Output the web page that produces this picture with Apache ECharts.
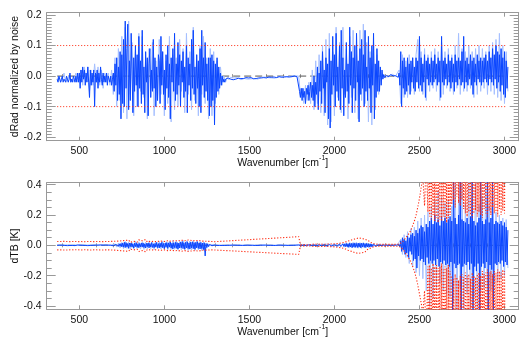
<!DOCTYPE html>
<html><head><meta charset="utf-8">
<script src="https://cdn.jsdelivr.net/npm/echarts@6/dist/echarts.min.js"></script>
<style>html,body{margin:0;padding:0;background:#fff}#c{width:527px;height:339px}</style>
</head><body><div id="c"></div>
<script>
// wavenumber grids (cm-1)
const WN0 = 370, STEP_FINE = 5, STEP_COARSE = 10, WN_SW = 2550;
// tick labels
const xMajor = [500,1000,1500,2000,2500,3000];
const xMinor = [400,600,700,800,900,1100,1200,1300,1400,1600,1700,1800,1900,2100,2200,2300,2400,2600,2700,2800,2900];
const topYMajor = [-0.2,-0.1,0,0.1,0.2];
const botYMajor = [-0.4,-0.2,0,0.2,0.4];
const noiseLevels = [0.1,-0.1];
const refSpan = [370,3005];
const zeroSpan = [370,3020];

// top panel: dRad normalized by noise (fine grid 370..3020 step 5)
const topDark = [
-.01,-.02,.00,-.01,-.02,-.01,.00,-.02,-.01,-.01,-.02,.00,-.01,-.02,-.01,.01,-.02,-.01,-.02,.00,
-.01,-.02,.00,-.02,.01,-.02,.01,-.04,.02,-.02,.03,-.01,.02,-.03,.01,-.02,.03,-.02,-.07,.02,
-.03,.01,-.02,.02,-.10,.01,-.02,.02,-.04,.01,-.02,.03,-.01,-.03,.01,-.02,.00,-.02,.01,-.03,
.00,-.01,-.02,.00,-.03,-.01,.01,-.05,.04,-.03,.06,-.08,.03,-.06,.08,-.14,.07,-.09,.12,-.10,
.18,-.04,.09,.17,-.11,.05,-.08,.14,.02,-.12,.06,-.05,.10,-.03,.07,-.10,.13,-.04,.05,-.09,
.15,-.06,.03,-.12,.08,-.02,.06,-.13,.04,.09,-.07,.02,-.05,.12,-.04,.06,-.10,.03,-.08,.07,
.05,-.09,.13,-.03,.08,-.06,.02,-.11,.07,-.04,.10,-.07,.04,-.14,.06,-.02,.09,-.05,.14,-.08,
.04,-.06,.11,-.03,.07,-.10,.05,-.02,.08,-.07,.03,-.05,.10,-.12,.06,-.03,.04,-.08,.12,-.04,
.15,-.06,.03,-.09,.07,-.04,.05,-.10,.09,-.12,.15,-.03,.06,-.07,.11,-.05,.04,-.08,.06,-.13,
.06,-.10,.07,-.08,.05,-.16,.04,-.07,.06,-.05,.03,-.04,.01,-.03,.00,-.02,-.01,-.02,-.01,-.01,
-.009,-.006,-.011,-.007,-.010,-.005,-.009,-.012,-.006,-.008,-.010,-.006,-.009,-.007,-.011,-.006,-.008,-.010,-.005,-.008,
-.007,-.009,-.005,-.008,-.010,-.006,-.007,-.009,-.005,-.008,-.006,-.009,-.007,-.005,-.008,-.006,-.009,-.006,-.004,-.007,
-.006,-.004,-.007,-.005,-.008,-.004,-.006,-.005,-.007,-.003,-.006,-.005,-.004,-.007,-.005,-.003,-.006,-.004,-.005,-.003,
-.004,-.002,-.005,-.003,-.004,-.002,-.004,-.003,-.001,-.004,-.002,-.003,-.001,-.003,-.002,.000,-.002,-.001,-.002,.000,
-.001,.000,-.002,.001,-.001,-.05,-.07,-.04,-.08,-.04,-.07,-.05,-.09,-.04,-.06,-.03,-.08,-.05,-.02,-.07,
-.03,-.08,.00,-.10,-.02,-.06,.03,-.11,.01,-.05,.05,-.09,.08,-.04,.02,-.12,.06,-.02,.04,-.14,
.09,-.17,.05,-.06,.13,-.03,.07,-.10,.14,-.05,.03,-.08,.10,-.11,.15,-.04,.06,-.13,.02,-.07,
.11,-.05,.04,-.09,.16,-.03,.08,-.12,.06,-.04,.10,-.08,.14,-.02,.05,-.15,.09,-.06,.12,-.04,
.07,-.10,.15,-.05,.03,-.08,.13,-.04,.06,-.12,.10,-.03,.14,-.14,.04,-.07,.09,-.05,.05,-.05,
.03,-.03,.02,-.01,.005,-.005,-.004,.002,-.003,.001,-.002,.003,.005,.002,.006,.001,.004,-.002,.001,-.003,
.002,-.004,.01,-.03,.08,-.10,.05,-.04,.06,-.06,.03,-.05,.06,-.03,.04,-.06,.05,-.02,.06,-.04,
.03,-.05,.06,-.02,.05,-.04,.13,-.03,.06,-.05,.04,-.02,.07,-.07,.05,-.01,.06,-.03,.04,-.02,
.06,-.03,.05,-.02,.07,-.01,.04,-.03,.06,-.02,.05,-.07,.13,-.02,.05,-.03,.06,-.01,.04,-.03,
.07,-.02,.05,-.04,.06,-.02,.04,-.05,.07,-.02,.05,-.03,.06,-.01,.05,-.03,.08,-.02,.13,-.04,
.05,-.02,.06,-.03,.04,-.01,.07,-.03,.05,-.06,.06,-.02,.04,-.03,.07,-.01,.05,-.02,.06,-.03,
.05,-.02,.06,-.01,.07,-.02,.05,-.03,.08,-.01,.06,-.02,.09,-.03,.07,-.01,.10,-.04,.08,-.02,
.07,-.05,.09,-.03,.06,-.06,.08,-.07,.05,-.04,.03
];
// top panel, second (light) spectrum (coarse grid step 10)
const topLight = [
-.01,.00,-.02,-.01,.01,-.02,-.01,.00,-.02,-.01,
-.02,.01,-.01,.00,.02,-.03,.03,-.02,.03,-.05,
.02,-.03,.04,-.02,.03,-.03,.02,-.04,.01,-.02,
.01,-.03,.02,-.06,.06,-.10,.09,-.08,.13,-.12,
.16,-.14,.18,-.06,.11,-.13,.08,-.10,.14,-.05,
.13,-.07,.06,-.14,.09,-.04,.11,-.13,.05,-.08,
.12,-.06,.08,-.13,.05,-.09,.13,-.15,.07,-.11,
.06,-.10,.12,-.05,.09,-.12,.14,-.06,.08,-.11,
.16,-.08,.07,-.13,.10,-.06,.13,-.09,.06,-.14,
.09,-.13,.08,-.09,.05,-.06,.03,-.03,.00,-.02,
-.005,-.012,-.004,-.010,-.006,-.011,-.005,-.009,-.012,-.006,
-.008,-.004,-.010,-.006,-.009,-.004,-.008,-.005,-.010,-.006,
-.004,-.008,-.003,-.007,-.005,-.002,-.006,-.003,-.007,-.004,
-.002,-.005,-.001,-.004,-.002,.001,-.003,-.001,.001,-.002,
.001,-.002,.000,-.06,-.04,-.09,-.03,-.08,-.02,-.09,
.02,-.11,.05,-.09,.07,-.12,.10,-.13,.12,-.16,
.14,-.15,.08,-.13,.16,-.07,.11,-.12,.16,-.06,
.09,-.14,.13,-.07,.15,-.12,.07,-.14,.15,-.08,
.17,-.09,.11,-.15,.08,-.16,.11,-.11,.07,-.06,
.02,-.01,.004,-.003,.002,-.002,.004,.006,.003,.000,
-.003,.02,-.09,.07,-.07,.05,-.07,.07,-.05,.06,
-.06,.07,.12,-.05,.08,-.06,.09,-.08,.07,-.05,
.08,-.04,.09,-.05,.08,-.08,.11,-.06,.08,-.04,
.09,-.05,.07,-.06,.10,-.04,.14,-.06,.09,-.05,
.08,-.05,.10,-.04,.08,-.07,.09,-.06,.10,-.05,
.09,-.04,.08,-.06,.10,-.05,.11,-.06,.12,-.07,
.14,-.08,.10,-.09,.08,-.05
];

// bottom panel: dTB [K] (fine grid step 5)
const botDark = [
.000,.002,-.001,.001,-.002,.000,.001,-.001,.002,-.001,.000,.001,-.002,.001,.000,-.001,.002,.000,-.001,.001,
.000,-.002,.001,.000,.002,-.001,.000,.001,-.002,.001,.000,-.001,.002,-.001,.001,.000,-.002,.001,.000,-.001,
.001,-.001,.000,.002,-.002,.001,.000,-.001,.001,.000,-.002,.002,-.001,.000,.001,-.001,.000,.002,-.001,.000,
.001,-.002,.001,.000,-.001,.002,-.003,.004,-.005,.006,-.004,.008,-.007,.010,-.006,.012,-.010,.015,-.012,.020,
-.015,.018,-.010,.012,-.020,.015,-.008,.016,-.012,.010,-.018,.014,-.009,.017,-.013,.011,-.016,.012,-.010,.015,
-.012,.016,-.014,.010,-.018,.013,-.009,.015,-.017,.012,-.011,.018,-.014,.010,-.016,.013,-.012,.019,-.015,.011,
-.018,.014,-.012,.020,-.016,.012,-.022,.015,-.013,.018,-.020,.016,-.012,.022,-.018,.014,-.025,.017,-.015,.020,
-.020,.018,-.024,.015,-.018,.022,-.016,.025,-.022,.017,-.026,.020,-.018,.024,-.021,.016,-.025,.021,-.017,.023,
-.022,.018,-.026,.020,-.017,.024,-.020,.016,-.024,.019,-.021,.015,-.028,.017,-.070,.012,-.015,.010,-.008,.006,
-.005,.004,-.003,.003,-.002,.002,-.002,.001,-.001,.001,.000,-.001,.001,.000,-.001,.001,.000,-.001,.000,.001,
.000,-.001,.001,.000,-.001,.000,.001,-.001,.000,.001,.000,-.001,.000,.001,-.001,.000,.001,.000,-.001,.000,
.001,.000,-.001,.000,.001,-.001,.000,.000,.001,-.001,.000,.001,.000,-.001,.000,.001,-.001,.000,.000,.001,
-.001,.000,.001,.000,-.001,.001,.000,-.001,.000,.001,-.001,.000,.001,.000,-.001,.000,.001,-.001,.000,.000,
.001,-.001,.000,.001,.000,-.001,.000,.001,-.001,.000,.000,.001,-.001,.000,.001,.000,-.001,.001,.000,-.001,
.000,.001,-.001,.000,.002,-.002,.003,-.002,.002,-.003,.002,-.002,.003,-.003,.002,-.002,.003,-.003,.002,-.002,
.003,-.003,.002,-.004,.003,-.003,.004,-.003,.002,-.004,.003,-.004,.004,-.003,.005,-.004,.003,-.005,.004,-.003,
.005,-.004,.006,-.005,.004,-.006,.005,-.005,.007,-.006,.005,-.007,.008,-.006,.007,-.008,.009,-.007,.010,-.008,
.012,-.010,.011,-.013,.014,-.011,.012,-.015,.013,-.012,.016,-.013,.012,-.014,.015,-.012,.013,-.016,.014,-.011,
.015,-.013,.012,-.014,.013,-.011,.010,-.012,.009,-.010,.008,-.008,.006,-.007,.005,-.005,.004,-.004,.003,-.003,
.002,-.002,.002,-.001,.001,-.001,.001,.000,-.001,.001,.000,-.001,.001,.000,.000,-.001,.001,.000,-.001,.001,
.000,-.002,.005,-.01,.03,-.04,.05,-.03,.04,-.06,.03,-.05,.06,-.08,.05,-.04,.07,-.06,.08,-.10,
.06,-.09,.10,-.15,.08,-.07,.11,-.10,.13,-.09,.12,-.11,.09,-.13,.14,-.08,.12,-.12,.16,-.10,
.18,-.12,.14,-.10,.20,-.13,.15,-.09,.17,-.14,.13,-.11,.19,-.12,.16,-.10,.18,-.13,.15,-.12,
.17,-.14,.19,-.11,.16,-.45,.45,-.12,.18,-.15,.14,-.13,.20,-.12,.45,-.45,.17,-.14,.16,-.12,
.15,-.13,.18,-.11,.14,-.16,.19,-.12,.45,-.45,.16,-.14,.13,-.17,.15,-.12,.18,-.45,.45,-.14,
.16,-.12,.14,-.15,.17,-.11,.45,-.45,.15,-.13,.18,-.16,.45,-.45,.14,-.12,.16,-.13,.15,-.11,
.14,-.12,.16,-.10,.13,-.14,.15,-.11,.12,-.13,.10
];
// bottom panel, second (light) spectrum (coarse grid step 10)
const botLight = [
.002,-.002,.001,-.003,.002,-.001,.003,-.002,.001,-.002,
.002,-.003,.001,-.002,.003,-.001,.002,-.003,.002,-.001,
.003,-.002,.001,-.003,.002,-.002,.003,-.001,.002,-.003,
.002,-.003,.004,-.006,.008,-.012,.015,-.018,.020,-.022,
.025,-.020,.022,-.026,.018,-.024,.027,-.021,.023,-.025,
.024,-.027,.021,-.023,.026,-.022,.025,-.028,.022,-.024,
.027,-.025,.029,-.026,.024,-.030,.028,-.027,.031,-.026,
.029,-.032,.027,-.030,.033,-.028,.030,-.034,.028,-.031,
.030,-.033,.028,-.031,.026,-.035,.024,-.040,.015,-.010,
.006,-.005,.003,-.003,.002,-.002,.002,-.001,.001,-.001,
.001,-.002,.002,-.001,.001,-.002,.002,-.001,.001,-.002,
.002,-.001,.001,-.002,.002,-.001,.001,-.002,.002,-.001,
.001,-.002,.002,-.001,.001,-.002,.002,-.001,.001,-.002,
.002,-.001,.001,-.002,.002,-.001,.001,-.002,.002,-.001,
.002,-.002,.003,-.004,.004,-.003,.004,-.004,.003,-.004,
.005,-.004,.005,-.006,.005,-.005,.006,-.006,.007,-.006,
.008,-.007,.009,-.008,.010,-.009,.011,-.010,.013,-.012,
.017,-.015,.019,-.018,.020,-.017,.021,-.019,.018,-.020,
.019,-.018,.016,-.015,.013,-.012,.010,-.009,.007,-.006,
.004,-.004,.003,-.003,.002,-.002,.002,-.002,.001,-.001,
.002,-.004,.04,-.06,.07,-.08,.09,-.12,.11,-.14,
.12,-.18,.16,-.20,.18,-.22,.20,-.30,.22,-.40,
.26,-.35,.30,-.28,.36,-.25,.32,-.30,.28,-.32,
.30,-.34,.26,-.38,.45,-.45,.30,-.28,.45,-.45,
.28,-.32,.45,-.45,.30,-.34,.45,-.45,.27,-.30,
.32,-.28,.45,-.45,.26,-.30,.28,-.25,.22,-.24,
.20,-.22,.18,-.20,.17,-.15
];
// bottom panel: +/- 0.1 noise expressed in TB, coarse grid step 10 from 370 to 2540 (null = no value)
const redUp = [
.025,.026,.025,.024,.026,.025,.025,.026,.024,.025,
.026,.025,.024,.026,.025,.027,.024,.026,.025,.024,
.025,.026,.024,.025,.026,.025,.024,.026,.025,.024,
.025,.024,.026,.025,.027,.024,.028,.022,.030,.020,
.032,.022,.035,.020,.030,.026,.033,.021,.036,.024,
.030,.025,.038,.022,.034,.027,.031,.024,.037,.026,
.033,.028,.040,.025,.036,.030,.042,.027,.038,.031,
.044,.029,.040,.034,.046,.030,.041,.035,.045,.032,
.043,.030,.039,.033,.040,.028,.036,.027,.032,.026,
.028,.025,.027,.024,null,null,null,null,null,null,
null,null,null,null,null,null,null,null,null,null,
null,null,null,null,null,null,null,null,null,null,
null,null,null,null,null,null,null,null,null,null,
null,null,null,null,null,null,null,null,null,null,
null,null,.057,.004,.006,.005,.007,.004,.006,.005,
.006,.008,.005,.007,.006,.008,.005,.007,.006,.008,
.007,.009,.006,.010,.008,.012,.010,.015,.013,.020,
.018,.028,.022,.035,.030,.042,.038,.048,.040,.046,
.036,.040,.028,.030,.018,.015,.010,.008,.006,.007,
.005,.006,.005,.006,.005,.006,.005,.006,.005,.006,
.006,.008,.012,.022,.035,.05,.065,.08,.10,.13,
.16,.20,.25,.31,.38,.45,.26,.55
];
const redLow = [
-.030,-.031,-.030,-.029,-.031,-.030,-.031,-.030,-.029,-.031,
-.030,-.031,-.029,-.030,-.031,-.030,-.029,-.031,-.030,-.030,
-.031,-.030,-.029,-.031,-.030,-.030,-.031,-.029,-.030,-.031,
-.030,-.029,-.031,-.030,-.032,-.028,-.034,-.026,-.036,-.025,
-.038,-.027,-.040,-.025,-.035,-.030,-.038,-.026,-.041,-.029,
-.035,-.030,-.043,-.027,-.039,-.032,-.036,-.029,-.042,-.031,
-.038,-.033,-.045,-.030,-.041,-.035,-.047,-.032,-.043,-.036,
-.049,-.034,-.045,-.039,-.051,-.035,-.046,-.040,-.050,-.037,
-.048,-.035,-.044,-.038,-.045,-.033,-.041,-.032,-.036,-.031,
-.033,-.030,-.032,-.031,null,null,null,null,null,null,
null,null,null,null,null,null,null,null,null,null,
null,null,null,null,null,null,null,null,null,null,
null,null,null,null,null,null,null,null,null,null,
null,null,null,null,null,null,null,null,null,null,
null,null,-.060,-.004,-.006,-.005,-.007,-.004,-.006,-.005,
-.006,-.008,-.005,-.007,-.006,-.008,-.005,-.007,-.006,-.008,
-.007,-.009,-.006,-.010,-.008,-.013,-.011,-.016,-.014,-.022,
-.020,-.032,-.025,-.040,-.034,-.048,-.043,-.053,-.045,-.050,
-.040,-.044,-.030,-.032,-.020,-.016,-.010,-.008,-.006,-.007,
-.005,-.006,-.005,-.006,-.005,-.006,-.005,-.006,-.005,-.006,
-.006,-.008,-.012,-.024,-.038,-.055,-.07,-.09,-.11,-.14,
-.17,-.21,-.26,-.32,-.38,-.45,-.30,-.60
];
// same, shortwave part on the fine grid (step 5 from 2550 to 3005)
const redUpSW = [
.22,.9,.19,1.1,.17,.8,.20,1.2,.16,.9,.18,1.0,.15,.8,.17,1.1,.16,.9,.19,1.2,
.17,.8,.15,1.0,.18,.9,.20,1.1,.27,.8,.30,1.2,.25,.9,.32,1.0,.28,1.1,.26,.9,
.30,1.0,.24,.8,.21,1.2,.19,.9,.22,1.0,.20,.8,.18,1.1,.21,.9,.23,1.0,.19,.8,
.22,1.1,.20,.9,.18,1.0,.24,.8,.21,1.2,.19,.9,.23,1.0,.20,1.1,.25,.8,.21,.9,
.22,1.0,.19,.9,.24,1.1,.20,.8,.23,1.0,.21,.9
];
const redLowSW = [
-.14,-.9,-.13,-1.1,-.15,-.8,-.12,-1.0,-.14,-.9,-.13,-1.2,-.15,-.8,-.14,-1.0,-.12,-.9,-.16,-1.1,
-.14,-.8,-.15,-1.0,-.13,-.9,-.17,-1.1,-.20,-.8,-.22,-1.2,-.19,-.9,-.21,-1.0,-.23,-1.1,-.20,-.9,
-.19,-1.0,-.21,-.8,-.18,-1.2,-.20,-.9,-.19,-1.0,-.22,-.8,-.18,-1.1,-.20,-.9,-.21,-1.0,-.19,-.8,
-.18,-1.1,-.20,-.9,-.17,-1.0,-.19,-.8,-.18,-1.2,-.16,-.9,-.18,-1.0,-.17,-1.1,-.19,-.8,-.17,-.9,
-.18,-1.0,-.16,-.9,-.17,-1.1,-.18,-.8,-.16,-1.0,-.17,-.9
];

// ---- styling / layout ----
const X_MIN = 308.3, X_MAX = 3083.5;
const AX = '#999999', TXT = '#111111', FF = '"Liberation Sans", Arial, sans-serif', FS = 10.5;
const DARK = '#0a46ff', LIGHT = '#a6c0ff', RED = '#ff2a10', GRAY = '#555555';

function pairs(arr, start, step){ return arr.map((v,i)=>[start+i*step, v]).filter(p=>p[1]!==null && p[1]!==undefined); }
function minors(lo, hi, step, majors){
  const out=[]; const n0=Math.ceil(lo/step-1e-9), n1=Math.floor(hi/step+1e-9);
  for(let k=n0;k<=n1;k++){ const v=Math.round(k*step*1000)/1000; if(!majors.some(m=>Math.abs(m-v)<1e-9)) out.push(v); }
  return out;
}

const grids = [
  {left:46.7, top:12.7, width:472, height:128, yMin:-0.2115, yMax:0.2075, yMajor:topYMajor, yMinorStep:0.01},
  {left:46.7, top:182.7, width:472, height:126.6, yMin:-0.422, yMax:0.413, yMajor:botYMajor, yMinorStep:0.05}
];

const xAxis=[], yAxis=[], gridOpt=[];
const mainX=[], mainY=[];
grids.forEach((g,gi)=>{
  gridOpt.push({left:g.left, top:g.top, width:g.width, height:g.height, containLabel:false});
  const xb = {type:'value', gridIndex:gi, min:X_MIN, max:X_MAX, splitLine:{show:false},
              axisLine:{show:true, onZero:false, lineStyle:{color:AX, width:1}}, axisLabel:{show:false}};
  const tk = (vals,len)=>({show:true, inside:true, length:len, customValues:vals, lineStyle:{color:AX, width:1}});
  mainX.push(xAxis.length);
  xAxis.push(Object.assign({}, xb, {position:'bottom', axisTick:tk(xMajor,4),
     axisLabel:{show:true, customValues:xMajor, color:TXT, fontSize:FS, fontFamily:FF, margin:5, formatter:v=>String(Math.round(v))}}));
  xAxis.push(Object.assign({}, xb, {position:'bottom', axisLine:{show:false}, axisTick:tk(xMinor,2)}));
  xAxis.push(Object.assign({}, xb, {position:'top', axisTick:tk(xMajor,4)}));
  xAxis.push(Object.assign({}, xb, {position:'top', axisLine:{show:false}, axisTick:tk(xMinor,2)}));
  const yMin = minors(g.yMin, g.yMax, g.yMinorStep, g.yMajor);
  const yb = {type:'value', gridIndex:gi, min:g.yMin, max:g.yMax, splitLine:{show:false},
              axisLine:{show:true, onZero:false, lineStyle:{color:AX, width:1}}, axisLabel:{show:false}};
  mainY.push(yAxis.length);
  yAxis.push(Object.assign({}, yb, {position:'left', axisTick:tk(g.yMajor,9),
     axisLabel:{show:true, customValues:g.yMajor, color:TXT, fontSize:FS, fontFamily:FF, margin:5, formatter:v=>v.toFixed(1)}}));
  yAxis.push(Object.assign({}, yb, {position:'left', axisLine:{show:false}, axisTick:tk(yMin,5)}));
  yAxis.push(Object.assign({}, yb, {position:'right', axisTick:tk(g.yMajor,9)}));
  yAxis.push(Object.assign({}, yb, {position:'right', axisLine:{show:false}, axisTick:tk(yMin,5)}));
});

function line(gi, data, color, width, type, z){
  return {type:'line', xAxisIndex:mainX[gi], yAxisIndex:mainY[gi], data, symbol:'none', showSymbol:false,
          clip:true, silent:true, z, lineStyle:{color, width, type}, emphasis:{disabled:true}};
}
const series = [
  line(0, [[zeroSpan[0],0],[zeroSpan[1],0]], GRAY, 1, [7,4], 1),
  line(0, pairs(topLight, WN0, STEP_COARSE), LIGHT, 1, 'solid', 2),
  line(0, pairs(topDark, WN0, STEP_FINE), DARK, 1, 'solid', 3),
  line(0, [[refSpan[0],noiseLevels[0]],[refSpan[1],noiseLevels[0]]], RED, 1, [1,2], 4),
  line(0, [[refSpan[0],noiseLevels[1]],[refSpan[1],noiseLevels[1]]], RED, 1, [1,2], 4),
  line(1, [[zeroSpan[0],0],[zeroSpan[1],0]], GRAY, 1, [7,4], 1),
  line(1, pairs(botLight, WN0, STEP_COARSE), LIGHT, 1, 'solid', 2),
  line(1, pairs(botDark, WN0, STEP_FINE), DARK, 1, 'solid', 3),
  line(1, pairs(redUp, WN0, STEP_COARSE).concat(pairs(redUpSW, WN_SW, STEP_FINE)), RED, 1.1, [1.2,1.8], 4),
  line(1, pairs(redLow, WN0, STEP_COARSE).concat(pairs(redLowSW, WN_SW, STEP_FINE)), RED, 1.1, [1.2,1.8], 4)
];

const titleFont = FS + 'px ' + FF;
const xTitle = (y)=>({type:'text', x:282.7, y, silent:true, style:{
  text:'{a|Wavenumber [cm}{s|-1}{a|]}', textAlign:'center', textVerticalAlign:'middle',
  rich:{a:{fontSize:FS, fontFamily:FF, fill:TXT, verticalAlign:'bottom', lineHeight:14},
        s:{fontSize:7, fontFamily:FF, fill:TXT, verticalAlign:'top', lineHeight:14}}}});
const graphic = [
  {type:'text', x:15, y:76.5, rotation:Math.PI/2, silent:true,
   style:{text:'dRad normalized by noise', font:titleFont, fill:TXT, textAlign:'center', textVerticalAlign:'middle'}},
  {type:'text', x:15, y:246, rotation:Math.PI/2, silent:true,
   style:{text:'dTB [K]', font:titleFont, fill:TXT, textAlign:'center', textVerticalAlign:'middle'}},
  xTitle(161.5),
  xTitle(331)
];

const chart = echarts.init(document.getElementById('c'), null, {renderer:'canvas'});
chart.setOption({animation:false, backgroundColor:'#ffffff', grid:gridOpt, xAxis, yAxis, series, graphic});
</script></body></html>
